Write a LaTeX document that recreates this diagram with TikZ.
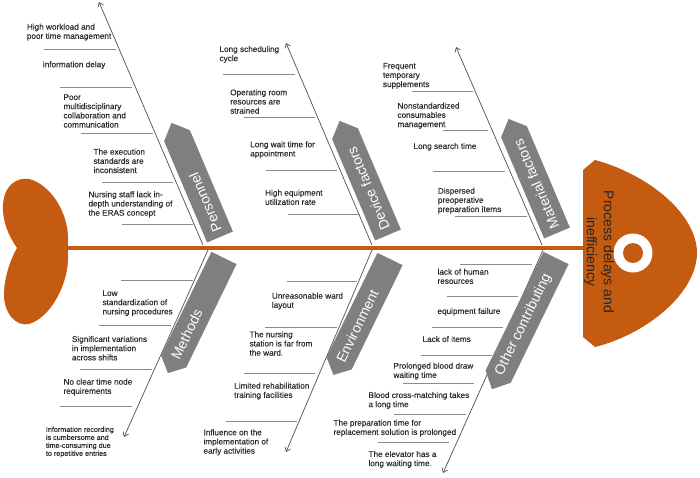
\documentclass[tikz,border=0pt]{standalone}
\usepackage{fontspec}
\setmainfont{Liberation Sans}
\newfontface\causeface{Liberation Sans}[FakeBold=0.25]
\usetikzlibrary{arrows.meta}
\definecolor{fishorange}{HTML}{C55A11}
\definecolor{bannergray}{HTML}{7F7F7F}
\definecolor{txtgray}{HTML}{2B2B2B}
\definecolor{bonegray}{HTML}{505050}
\definecolor{sepgray}{HTML}{8C8C8C}
\begin{document}
\begin{tikzpicture}[x=1pt,y=-1pt,
  cause/.style={anchor=north west, inner sep=0pt, align=left, font=\causeface\fontsize{8.2}{9.2}\selectfont, text=txtgray},
  smallcause/.style={cause, font=\causeface\fontsize{7.2}{8}\selectfont},
  sepline/.style={draw=sepgray, line width=0.8pt},
  bone/.style={draw=bonegray, line width=0.7pt, -{Straight Barb[length=4pt,width=6pt]}},
  bannerbox/.style={fill=bannergray},
  bannertext/.style={text=white, font=\fontsize{14}{16}\selectfont, inner sep=0pt}
]
\useasboundingbox (0,0) rectangle (700,477);
\fill[white] (0,0) rectangle (700,477);

% spine
\coordinate (tailR) at (66,247.5);
\coordinate (headL) at (585,247.5);
\draw[fishorange, line width=4pt] (tailR) -- (headL);

% tail
\fill[fishorange] (17,248) .. controls (8,235) and (2,220) .. (3,205)
  .. controls (4,186) and (16,177) .. (29,179)
  .. controls (50,184) and (68,212) .. (68,238) -- (68,258)
  .. controls (68,285) and (50,318) .. (29,324)
  .. controls (15,327) and (4,312) .. (4,295)
  .. controls (4,280) and (9,262) .. (17,248) -- cycle;

% head
\fill[fishorange] (583,170) -- (595,160) .. controls (650,175) and (697,215) .. (697,253)
  .. controls (697,291) and (650,333) .. (595,347) -- (583,337) -- cycle;
\fill[white] (633,253) circle (19.5);
\fill[fishorange] (633,253) circle (10);
\node[rotate=-90, align=center, inner sep=0pt, font=\fontsize{14}{17}\selectfont, text=black!85] (headtxt) at (599,252) {Process delays and\\inefficiency};

% bones
\coordinate (pA) at (203,245); \coordinate (pB) at (99,2);
\coordinate (dA) at (372,245); \coordinate (dB) at (286,43);
\coordinate (mA) at (542,245); \coordinate (mB) at (456,47);
\coordinate (meA) at (208,250); \coordinate (meB) at (124,437);
\coordinate (eA) at (372,250); \coordinate (eB) at (286,452);
\coordinate (oA) at (543,250); \coordinate (oB) at (443,473);
\draw[bone] (pA) -- (pB);
\draw[bone] (dA) -- (dB);
\draw[bone] (mA) -- (mB);
\draw[bone] (meA) -- (meB);
\draw[bone] (eA) -- (eB);
\draw[bone] (oA) -- (oB);

% banners (top)
\begin{scope}[shift={(220,237)}, rotate=113]
  \fill[bannerbox] (0,-14) -- (110,-14) -- (124,0) -- (110,14) -- (0,14) -- cycle;
  \node[bannertext, anchor=west, rotate=113] (bPers) at (6,0) {Personnel};
\end{scope}
\begin{scope}[shift={(388,235)}, rotate=113]
  \fill[bannerbox] (0,-14) -- (110,-14) -- (124,0) -- (110,14) -- (0,14) -- cycle;
  \node[bannertext, anchor=west, rotate=113] (bDev) at (6,0) {Device factors};
\end{scope}
\begin{scope}[shift={(557,233)}, rotate=113]
  \fill[bannerbox] (0,-14) -- (110,-14) -- (124,0) -- (110,14) -- (0,14) -- cycle;
  \node[bannertext, anchor=west, rotate=113] (bMat) at (5,0) {Material factors};
\end{scope}
% banners (bottom)
\begin{scope}[shift={(224,258)}, rotate=244]
  \fill[bannerbox] (0,-14) -- (115,-14) -- (128,0) -- (115,14) -- (0,14) -- cycle;
  \node[bannertext, anchor=west, rotate=64] (bMeth) at (112,0) {Methods};
\end{scope}
\begin{scope}[shift={(390,259)}, rotate=244]
  \fill[bannerbox] (0,-14) -- (116,-14) -- (129,0) -- (116,14) -- (0,14) -- cycle;
  \node[bannertext, anchor=west, rotate=64] (bEnv) at (114,0) {Environment};
\end{scope}
\begin{scope}[shift={(556,258)}, rotate=244]
  \fill[bannerbox] (0,-14) -- (132,-14) -- (146,0) -- (132,14) -- (0,14) -- cycle;
  \node[bannertext, anchor=west, rotate=64] (bOther) at (130,0) {Other contributing};
\end{scope}

% separators: Personnel
\draw[sepline] (44.3,49.3) -- (115.7,49.3);
\draw[sepline] (60,87.3) -- (131.7,87.3);
\draw[sepline] (81,133.3) -- (152.7,133.3);
\draw[sepline] (101.7,182.3) -- (173.3,182.3);
\draw[sepline] (121.7,224) -- (193.3,224);
% Device
\draw[sepline] (223.3,74) -- (295,74);
\draw[sepline] (244.3,117.3) -- (315,117.3);
\draw[sepline] (266,170) -- (337.3,170);
\draw[sepline] (287.7,214.3) -- (360,214.3);
% Material
\draw[sepline] (411.7,91.7) -- (473.3,91.7);
\draw[sepline] (443,130.7) -- (488.3,130.7);
\draw[sepline] (433.3,171) -- (505,171);
\draw[sepline] (455,216.7) -- (526.7,216.7);
% Methods
\draw[sepline] (121,280) -- (192.7,280);
\draw[sepline] (99.3,325.3) -- (171,325.3);
\draw[sepline] (80,369.3) -- (151.7,369.3);
\draw[sepline] (60,406) -- (131.7,406);
% Environment
\draw[sepline] (286.7,281.7) -- (356.7,281.7);
\draw[sepline] (265,327.3) -- (336.7,327.3);
\draw[sepline] (244,373.3) -- (315,373.3);
\draw[sepline] (226,421.7) -- (297.3,421.7);
% Other
\draw[sepline] (460,264) -- (531.7,264);
\draw[sepline] (446.7,296) -- (518.3,296);
\draw[sepline] (432.3,327.3) -- (503.3,327.3);
\draw[sepline] (420.7,355) -- (491.7,355);
\draw[sepline] (402.7,383.3) -- (474,383.3);
\draw[sepline] (394,414) -- (466,414);
\draw[sepline] (378,442.3) -- (449.3,442.3);

% cause texts: Personnel
\node[cause] (p1) at (26.7,23.5) {High workload and\\poor time management};
\node[cause] (p2) at (42.7,61.1) {information delay};
\node[cause] (p3) at (63.3,94.1) {Poor\\multidisciplinary\\collaboration and\\communication};
\node[cause] (p4) at (93.3,148.5) {The execution\\standards are\\inconsistent};
\node[cause] (p5) at (88.3,191.1) {Nursing staff lack in-\\depth understanding of\\the ERAS concept};
% Device
\node[cause] (d1) at (219.3,45.8) {Long scheduling\\cycle};
\node[cause] (d2) at (230,89.1) {Operating room\\resources are\\strained};
\node[cause] (d3) at (250,141.1) {Long wait time for\\appointment};
\node[cause] (d4) at (265,189.5) {High equipment\\utilization rate};
% Material
\node[cause] (m1) at (382.7,62.8) {Frequent\\temporary\\supplements};
\node[cause] (m2) at (397.3,102.5) {Nonstandardized\\consumables\\management};
\node[cause] (m3) at (413.3,142.8) {Long search time};
\node[cause] (m4) at (437.7,187.5) {Dispersed\\preoperative\\preparation items};
% Methods
\node[cause] (me1) at (102.3,290.1) {Low\\standardization of\\nursing procedures};
\node[cause] (me2) at (71.7,335.8) {Significant variations\\in implementation\\across shifts};
\node[cause] (me3) at (63.3,378.5) {No clear time node\\requirements};
\node[smallcause] (me4) at (45.7,426.5) {Information recording\\is cumbersome and\\time-consuming due\\to repetitive entries};
% Environment
\node[cause] (e1) at (271.7,292.5) {Unreasonable ward\\layout};
\node[cause] (e2) at (249.3,331.1) {The nursing\\station is far from\\the ward.};
\node[cause] (e3) at (234,382.5) {Limited rehabilitation\\training facilities};
\node[cause] (e4) at (203.3,429.1) {Influence on the\\implementation of\\early activities};
% Other contributing
\node[cause] (o1) at (437.3,268.5) {lack of human\\resources};
\node[cause] (o2) at (437.3,307.8) {equipment failure};
\node[cause] (o3) at (422.3,335.8) {Lack of items};
\node[cause] (o4) at (393.3,362.5) {Prolonged blood draw\\waiting time};
\node[cause] (o5) at (368.3,391.8) {Blood cross-matching takes\\a long time};
\node[cause] (o6) at (333.3,419.5) {The preparation time for\\replacement solution is prolonged};
\node[cause] (o7) at (368.3,450.8) {The elevator has a\\long waiting time.};
\end{tikzpicture}
\end{document}
